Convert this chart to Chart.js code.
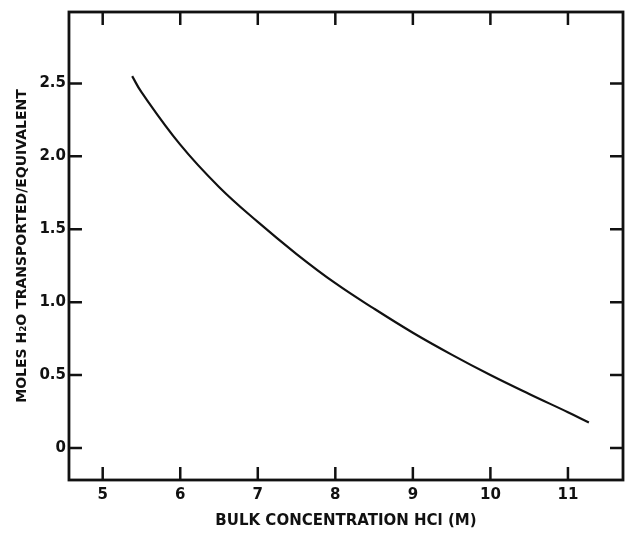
<!DOCTYPE html>
<html><head><meta charset="utf-8">
<script src="https://cdn.jsdelivr.net/npm/chart.js@4/dist/chart.umd.min.js"></script>
<style>html,body{margin:0;padding:0;background:#fff}</style>
</head><body>
<canvas id="c" width="625" height="533"></canvas>
<script>
// Data
const concentrationHCl = [5.38, 5.5, 6.0, 6.5, 7.0, 7.5, 8.0, 8.5, 9.0, 9.5, 10.0, 10.5, 11.0, 11.27];
const molesH2O        = [2.55, 2.44, 2.08, 1.79, 1.55, 1.33, 1.13, 0.955, 0.79, 0.64, 0.50, 0.37, 0.245, 0.175];
const xTicks = [5, 6, 7, 8, 9, 10, 11];
const yTicks = [0, 0.5, 1, 1.5, 2, 2.5];
const yTickLabels = ['0', '0.5', '1.0', '1.5', '2.0', '2.5'];
const xTitle = 'BULK CONCENTRATION HCl (M)';
const yTitle = 'MOLES H\u2082O TRANSPORTED/EQUIVALENT';

const INK = '#111';
const tickFont = {family: 'DejaVu Sans', weight: 'bold', size: 15};
const xTitleFont = {family: 'DejaVu Sans', weight: 'bold', size: 15};
const yTitleFont = {family: 'DejaVu Sans', weight: 'bold', size: 14};

const framePlugin = {
  id: 'frame',
  afterDatasetsDraw(chart) {
    const {ctx, chartArea: a, scales: {x, y}} = chart;
    ctx.save();
    ctx.strokeStyle = INK;
    ctx.lineWidth = 2.8;
    ctx.lineCap = 'butt';
    ctx.strokeRect(a.left, a.top, a.right - a.left, a.bottom - a.top);
    const L = 13;
    ctx.lineWidth = 2.5;
    ctx.beginPath();
    xTicks.forEach(v => {
      const px = x.getPixelForValue(v);
      ctx.moveTo(px, a.bottom); ctx.lineTo(px, a.bottom - L);
      ctx.moveTo(px, a.top); ctx.lineTo(px, a.top + L);
    });
    yTicks.forEach(v => {
      const py = y.getPixelForValue(v);
      ctx.moveTo(a.left, py); ctx.lineTo(a.left + L, py);
      ctx.moveTo(a.right, py); ctx.lineTo(a.right - L, py);
    });
    ctx.stroke();
    ctx.restore();
  }
};

new Chart(document.getElementById('c'), {
  type: 'line',
  data: {
    datasets: [{
      data: concentrationHCl.map((c, i) => ({x: c, y: molesH2O[i]})),
      borderColor: INK,
      borderWidth: 2.2,
      pointRadius: 0,
      fill: false,
      tension: 0.4
    }]
  },
  options: {
    responsive: false,
    animation: false,
    layout: {padding: {top: 12, right: 2, left: 0, bottom: 0}},
    plugins: {legend: {display: false}, tooltip: {enabled: false}},
    scales: {
      x: {
        type: 'linear', min: 4.565, max: 11.71,
        afterBuildTicks: s => { s.ticks = xTicks.map(v => ({value: v})); },
        grid: {display: false, drawTicks: false},
        border: {display: false},
        ticks: {font: tickFont, color: INK, padding: 6, maxRotation: 0, callback: v => String(v)},
        title: {display: true, text: xTitle, font: xTitleFont, color: INK, padding: {top: 2, bottom: 3}}
      },
      y: {
        type: 'linear', min: -0.22, max: 2.99,
        afterBuildTicks: s => { s.ticks = yTicks.map(v => ({value: v})); },
        grid: {display: false, drawTicks: false},
        border: {display: false},
        ticks: {font: tickFont, color: INK, padding: 3, callback: v => yTickLabels[yTicks.indexOf(v)]},
        title: {display: true, text: yTitle, font: yTitleFont, color: INK, padding: {top: 13.6, bottom: 6}}
      }
    }
  },
  plugins: [framePlugin]
});
</script>
</body></html>
